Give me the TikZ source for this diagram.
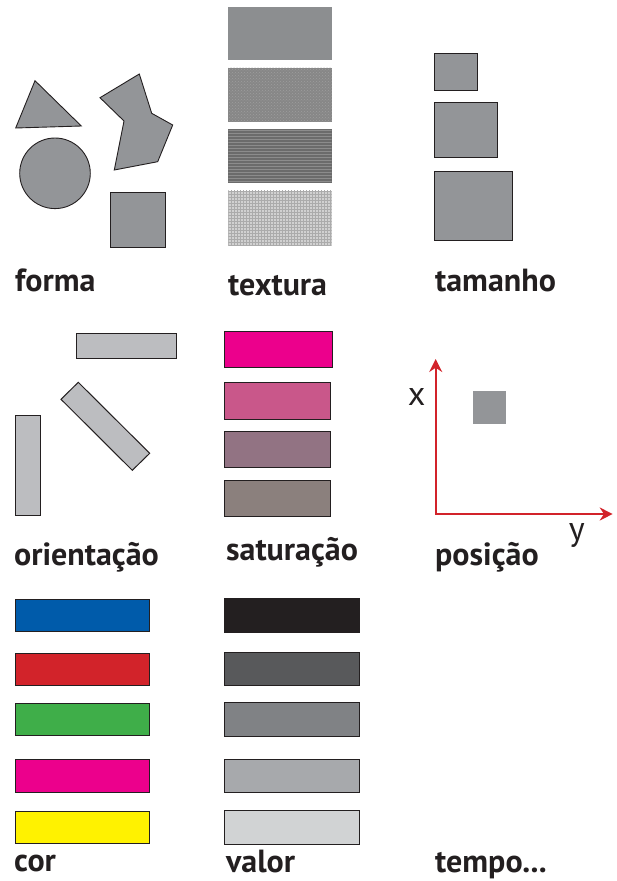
\documentclass[tikz,border=0pt]{standalone}
\usepackage{fontspec}
\setmainfont{PT Sans}
\usetikzlibrary{arrows.meta}
\usetikzlibrary{patterns}

\definecolor{ink}{HTML}{231F20}
\definecolor{shapegray}{HTML}{939598}
\definecolor{bargray}{HTML}{BCBDC0}
\definecolor{axisred}{HTML}{D2232A}
\definecolor{cblue}{HTML}{005BAA}
\definecolor{cred}{HTML}{D2232A}
\definecolor{cgreen}{HTML}{3FAE49}
\definecolor{cmagenta}{HTML}{EC008C}
\definecolor{cyellow}{HTML}{FFF200}
\definecolor{sat1}{HTML}{EC008C}
\definecolor{sat2}{HTML}{C9578A}
\definecolor{sat3}{HTML}{927383}
\definecolor{sat4}{HTML}{8B807D}
\definecolor{val1}{HTML}{231F20}
\definecolor{val2}{HTML}{58595B}
\definecolor{val3}{HTML}{808285}
\definecolor{val4}{HTML}{A7A9AC}
\definecolor{val5}{HTML}{D1D3D4}

\tikzset{
  lbl/.style={anchor=base west, inner sep=0pt, text=ink, font=\fontsize{32}{34}\selectfont\bfseries},
  axlbl/.style={inner sep=0pt, text=ink, font=\fontsize{34}{36}\selectfont},
  blob/.style={draw=ink, line width=0.9pt, fill=shapegray},
  swatch/.style={draw=ink, line width=1pt, fill=#1},
}

\begin{document}
\begin{tikzpicture}[x=1pt, y=-1pt]
        \useasboundingbox (0,0) rectangle (616,881);

        % forma
        \draw[blob] (35,80.7) -- (15.7,128) -- (81.3,126) -- cycle;
        \draw[blob] (100,97.7) -- (139.3,74) -- (151.7,113.3) -- (172.7,125) -- (157.7,161.7) -- (114.3,170) -- (124,121) -- cycle;
        \draw[blob] (55,173.3) circle[radius=35.3pt];
        \draw[blob] (110.3,192.7) rectangle (165.7,247.7);
        \node (forma) at (15,291) [lbl] {forma};

        % textura
        \fill[color=shapegray!95!black] (228.3,6.7) rectangle (331.7,60);
        \fill[color=black!47, postaction={pattern=crosshatch dots, pattern color=black!38}] (228.3,67.7) rectangle (331.7,121.7);
        \fill[color=black!58, postaction={pattern=horizontal lines, pattern color=black!45}] (228.3,129.3) rectangle (331.7,183.3);
        \fill[color=black!18, postaction={pattern=grid, pattern color=black!33}] (228.3,190.7) rectangle (331.7,245);
        \node (textura) at (228,295) [lbl] {textura};

        % tamanho
        \draw[blob] (434,53.3) rectangle (477.3,90);
        \draw[blob] (434,102) rectangle (497.7,157.3);
        \draw[blob] (434,171.7) rectangle (512.7,240);
        \node (tamanho) at (435,291) [lbl] {tamanho};

        % orientacao
        \draw[swatch=bargray] (76,333.3) rectangle (176.7,358.3);
        \draw[swatch=bargray] (61,399.3) -- (78.3,382.3) -- (149.7,453.3) -- (132.3,470.3) -- cycle;
        \draw[swatch=bargray] (15.3,415.7) rectangle (40.3,515.7);
        \node (orientacao) at (14,565) [lbl] {orientação};

        % saturacao
        \draw[swatch=sat1] (224.3,331.7) rectangle (332.3,367.7);
        \draw[swatch=sat2] (224.3,382.3) rectangle (330,419);
        \draw[swatch=sat3] (224.3,431) rectangle (330,467);
        \draw[swatch=sat4] (224.3,480) rectangle (330,516);
        \node (saturacao) at (226,560) [lbl] {saturação};

        % posicao
        \coordinate (origin) at (435.7,514);
        \coordinate (xtip) at (435.7,359);
        \coordinate (ytip) at (612.7,514);
        \draw[axisred, line width=2pt, {Stealth[length=13pt,width=13pt]}-{Stealth[length=13pt,width=13pt]}] (xtip) -- (origin) -- (ytip);
        \fill[shapegray] (473,391) rectangle (506,423.7);
        \node (xlbl) at (416.7,396.7) [axlbl] {x};
        \node (ylbl) at (576.7,535) [axlbl] {y};
        \node (posicao) at (435,565) [lbl] {posição};

        % cor
        \draw[swatch=cblue] (15.3,599) rectangle (149.3,631.3);
        \draw[swatch=cred] (15.3,653) rectangle (149.3,685.3);
        \draw[swatch=cgreen] (15.3,703) rectangle (149.3,735.3);
        \draw[swatch=cmagenta] (15.3,759.3) rectangle (149.3,792);
        \draw[swatch=cyellow] (15.3,811) rectangle (149.3,843.3);
        \node (cor) at (14,871) [lbl] {cor};

        % valor
        \draw[swatch=val1] (224.3,598.3) rectangle (359.3,632);
        \draw[swatch=val2] (224.3,652.7) rectangle (359.3,685);
        \draw[swatch=val3] (224.3,702.3) rectangle (359.3,736);
        \draw[swatch=val4] (224.3,759) rectangle (359.3,792.3);
        \draw[swatch=val5] (224.3,810.7) rectangle (359.3,844);
        \node (valor) at (226,872) [lbl] {valor};

        % tempo
        \node (tempo) at (435,872) [lbl] {tempo...};
    \end{tikzpicture}
\end{document}
